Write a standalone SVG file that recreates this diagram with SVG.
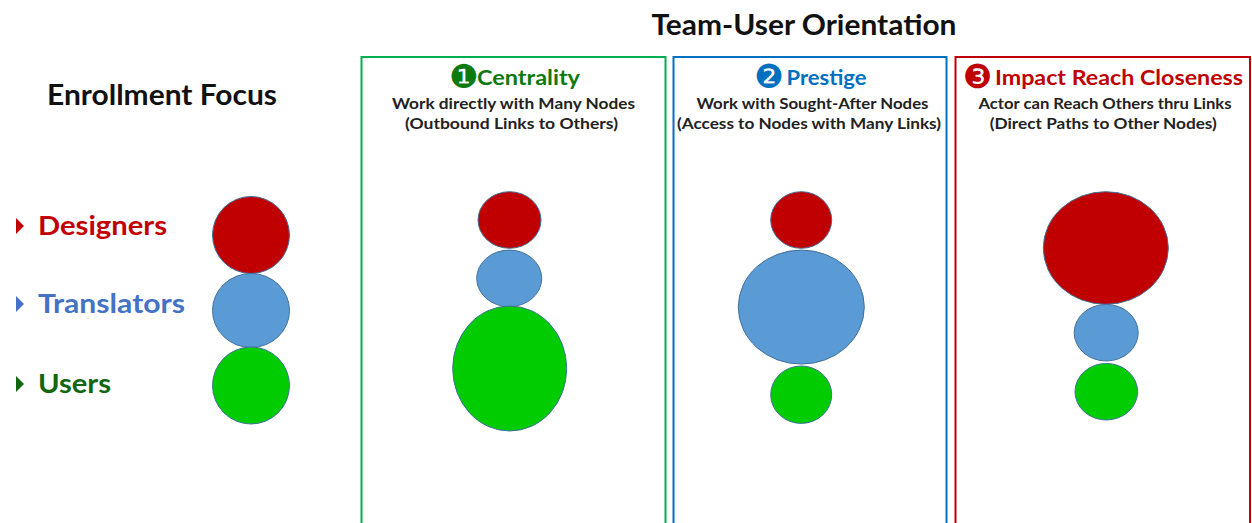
<svg xmlns="http://www.w3.org/2000/svg" width="1252" height="523" viewBox="0 0 1252 523">
  <style>
    text { font-family: Lato, "Open Sans", "Liberation Sans", sans-serif; font-weight: bold; }
    .title { font-size: 28px; fill: #111111; }
    .legend { font-size: 26px; }
    .head { font-size: 21px; }
    .sub { font-size: 15px; fill: #222222; text-anchor: middle; }
    .icon { font-family: "DejaVu Sans", sans-serif; font-size: 33px; font-weight: normal; text-anchor: middle; }
    .box { fill: none; stroke-width: 2; }
    .node { stroke: #41719C; stroke-width: 1; }
    .red { fill: #C00000; }
    .blue { fill: #5B9BD5; }
    .green { fill: #00CC00; }
  </style>

  <!-- Titles -->
  <text id="title-team" class="title" x="651.5" y="35" textLength="305" lengthAdjust="spacingAndGlyphs">Team-User Orientation</text>
  <text id="title-enroll" class="title" x="47" y="105" textLength="230" lengthAdjust="spacingAndGlyphs">Enrollment Focus</text>

  <!-- Legend -->
  <g id="legend-designers">
    <polygon points="16,218 24,226 16,234" fill="#C00000"/>
    <text class="legend" x="38" y="235" fill="#C00000" textLength="129" lengthAdjust="spacingAndGlyphs">Designers</text>
  </g>
  <g id="legend-translators">
    <polygon points="16,296 24,304 16,312" fill="#4472C4"/>
    <text class="legend" x="38" y="313" fill="#4472C4" textLength="147" lengthAdjust="spacingAndGlyphs">Translators</text>
  </g>
  <g id="legend-users">
    <polygon points="16,376 24,384 16,392" fill="#116611"/>
    <text class="legend" x="38" y="393" fill="#116611" textLength="73" lengthAdjust="spacingAndGlyphs">Users</text>
  </g>

  <!-- Enrollment circles -->
  <g id="enroll-designers"><ellipse class="node red" cx="251" cy="235" rx="38.5" ry="38.5"/></g>
  <g id="enroll-translators"><ellipse class="node blue" cx="251" cy="310.5" rx="38.5" ry="37"/></g>
  <g id="enroll-users"><ellipse class="node green" cx="251" cy="385.5" rx="38.5" ry="38.5"/></g>

  <!-- Panel 1: Centrality -->
  <g id="panel-centrality">
    <rect class="box" x="361.5" y="57" width="304" height="480" stroke="#00B050"/>
    <text class="icon" x="464" y="87.5" fill="#0E7A0E">❶</text>
    <text class="head" x="477" y="85" fill="#0E7A0E" textLength="103" lengthAdjust="spacingAndGlyphs">Centrality</text>
    <text class="sub" x="513.5" y="109" textLength="243" lengthAdjust="spacingAndGlyphs">Work directly with Many Nodes</text>
    <text class="sub" x="511.5" y="129" textLength="213" lengthAdjust="spacingAndGlyphs">(Outbound Links to Others)</text>
  </g>
  <g id="cent-designers"><ellipse class="node red" cx="509.5" cy="220" rx="31.5" ry="28.3"/></g>
  <g id="cent-translators"><ellipse class="node blue" cx="509.2" cy="278.4" rx="32.5" ry="28.3"/></g>
  <g id="cent-users"><ellipse class="node green" cx="509.7" cy="368.5" rx="57" ry="62.5"/></g>

  <!-- Panel 2: Prestige -->
  <g id="panel-prestige">
    <rect class="box" x="673.5" y="57" width="273" height="480" stroke="#0070C0"/>
    <text class="icon" x="769" y="87.5" fill="#0070C0">❷</text>
    <text class="head" x="786.5" y="85" fill="#0070C0" textLength="80" lengthAdjust="spacingAndGlyphs">Prestige</text>
    <text class="sub" x="812.5" y="109" textLength="232" lengthAdjust="spacingAndGlyphs">Work with Sought-After Nodes</text>
    <text class="sub" x="809" y="129" textLength="264" lengthAdjust="spacingAndGlyphs">(Access to Nodes with Many Links)</text>
  </g>
  <g id="pres-designers"><ellipse class="node red" cx="801.2" cy="220" rx="30.5" ry="28.3"/></g>
  <g id="pres-translators"><ellipse class="node blue" cx="801.3" cy="307.1" rx="63" ry="57"/></g>
  <g id="pres-users"><ellipse class="node green" cx="801.2" cy="394.7" rx="30.5" ry="28.7"/></g>

  <!-- Panel 3: Impact Reach Closeness -->
  <g id="panel-impact">
    <rect class="box" x="955.5" y="57" width="294.5" height="480" stroke="#C00000"/>
    <text class="icon" x="977.5" y="87.5" fill="#C00000">❸</text>
    <text class="head" x="995" y="85" fill="#C00000" textLength="248" lengthAdjust="spacingAndGlyphs">Impact Reach Closeness</text>
    <text class="sub" x="1105" y="109" textLength="253" lengthAdjust="spacingAndGlyphs">Actor can Reach Others thru Links</text>
    <text class="sub" x="1103.3" y="129" textLength="227" lengthAdjust="spacingAndGlyphs">(Direct Paths to Other Nodes)</text>
  </g>
  <g id="imp-designers"><ellipse class="node red" cx="1105.8" cy="248" rx="62.5" ry="56.3"/></g>
  <g id="imp-translators"><ellipse class="node blue" cx="1106.2" cy="332.7" rx="32" ry="28.3"/></g>
  <g id="imp-users"><ellipse class="node green" cx="1106.3" cy="391.7" rx="31.3" ry="28.3"/></g>

  <g id="connectors"></g>
</svg>
